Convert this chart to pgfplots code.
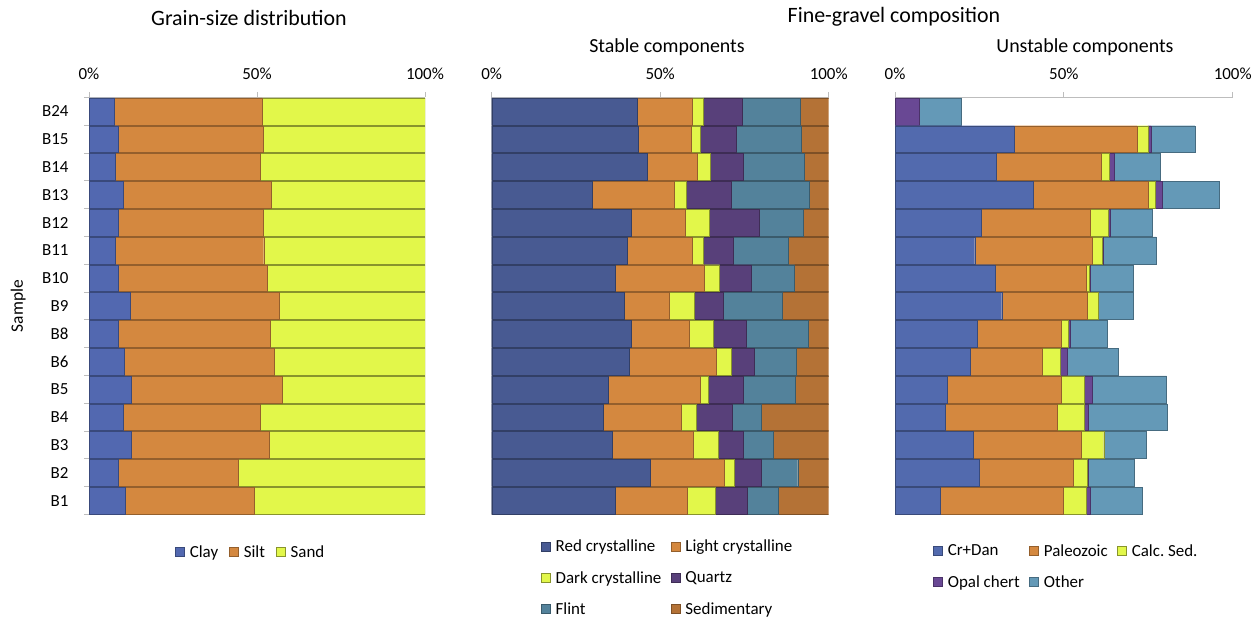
\documentclass[border=0pt]{standalone}
\usepackage{fontspec}
\setmainfont{Carlito}
\usepackage{pgfplots}
\usepackage{pgfplotstable}
\pgfplotsset{compat=1.18}

\definecolor{axisgray}{HTML}{BDBDBD}
\definecolor{cClay}{HTML}{5268B0}
\definecolor{cOrange}{HTML}{D4883F}
\definecolor{cYellow}{HTML}{E2F74A}
\definecolor{cRed}{HTML}{485A92}
\definecolor{cQuartz}{HTML}{58407A}
\definecolor{cFlint}{HTML}{53829B}
\definecolor{cSed}{HTML}{B47236}
\definecolor{cCr}{HTML}{526AAE}
\definecolor{cOpal}{HTML}{694894}
\definecolor{cOther}{HTML}{6499B7}

\pgfplotstableread{
pos name clay silt sand
0  B1  10.7 38.6 50.7
1  B2  8.7  35.8 55.5
2  B3  12.7 40.9 46.4
3  B4  10.2 40.7 49.1
4  B5  12.5 45.1 42.4
5  B6  10.5 44.6 44.9
6  B8  8.6  45.2 46.2
7  B9  12.2 44.5 43.3
8  B10 8.7  44.3 47.0
9  B11 7.9  44.1 48.0
10 B12 8.6  43.2 48.2
11 B13 10.2 44.1 45.7
12 B14 7.8  43.3 48.9
13 B15 8.7  43.1 48.2
14 B24 7.5  44.0 48.5
}\grain

\pgfplotstableread{
pos name red light dark quartz flint sed
0  B1  36.7 21.2 8.4 9.5  9.2  15.0
1  B2  47.0 21.9 3.0 8.1  10.8 9.2
2  B3  35.7 24.0 7.4 7.6  8.9  16.4
3  B4  33.2 23.0 4.5 10.6 8.7  20.0
4  B5  34.5 27.4 2.4 10.3 15.4 10.0
5  B6  40.8 25.9 4.5 6.6  12.7 9.5
6  B8  41.4 17.3 7.1 9.7  18.3 6.2
7  B9  39.2 13.6 7.4 8.6  17.3 13.9
8  B10 36.7 26.4 4.5 9.4  12.9 10.1
9  B11 40.3 19.1 3.3 8.9  16.4 12.0
10 B12 41.4 16.0 7.1 14.8 13.0 7.7
11 B13 29.8 24.4 3.6 13.3 23.1 5.8
12 B14 46.1 15.0 3.7 9.8  18.2 7.2
13 B15 43.6 15.7 2.5 10.8 19.3 8.1
14 B24 43.2 16.4 3.3 11.4 17.3 8.4
}\stable

\pgfplotstableread{
pos name cr paleo calc opal other
0  B1  13.3 36.6 6.7 1.1 15.5
1  B2  24.9 27.8 4.3 0.1 13.6
2  B3  23.3 31.9 6.6 0.2 12.5
3  B4  14.8 33.1 8.2 1.1 23.4
4  B5  15.4 33.7 7.0 2.2 22.1
5  B6  22.4 21.1 5.4 2.2 15.0
6  B8  24.4 24.8 2.2 0.6 10.7
7  B9  31.6 25.2 3.4 0.1 10.3
8  B10 29.6 27.0 1.0 0.2 12.7
9  B11 23.6 34.7 3.2 0.1 15.7
10 B12 25.4 32.3 5.3 0.7 12.6
11 B13 40.8 34.1 2.2 2.0 16.9
12 B14 30.1 31.1 2.1 1.7 13.4
13 B15 35.4 36.2 3.3 0.9 13.0
14 B24 0    0    0   7.2 12.5
}\unstable

\pgfplotsset{
  base/.style={
    scale only axis, height=417bp,
    xbar stacked, xmin=0, xmax=100, ymin=-0.5, ymax=14.5,
    bar width=0.97,
    axis x line*=top, axis y line*=left,
    axis line style={draw=axisgray, line width=0.8bp, -},
    xtick={0,50,100},
    xticklabel={\pgfmathprintnumber{\tick}\%},
    xticklabel style={yshift=9bp},
    tick align=outside, major tick length=5bp, minor tick length=5bp,
    tick style={draw=axisgray, line width=0.8bp},
    ticklabel style={font=\fontsize{17}{20}\selectfont},
    /pgf/number format/assume math mode=true,
    legend style={draw=none, fill=none, inner sep=0pt, anchor=north west,
      font=\fontsize{17}{20}\selectfont, row sep=13bp,
      nodes={inner sep=2.5bp, inner xsep=5bp},
      /tikz/every even column/.append style={column sep=4.5bp}},
    legend cell align=left,
    legend image code/.code={\draw[##1, line width=0.6bp] (0bp,-4.5bp) rectangle (9bp,4.5bp);},
  }
}

\begin{document}
\begin{tikzpicture}
\useasboundingbox (0,0) rectangle (1258bp,620bp);

\node[font=\fontsize{22}{26}\selectfont] at (249bp,602bp) {Grain-size distribution};
\node[font=\fontsize{22}{26}\selectfont] at (894bp,603bp) {Fine-gravel composition};
\node[font=\fontsize{20}{24}\selectfont] at (667bp,573bp) {Stable components};
\node[font=\fontsize{20}{24}\selectfont] at (1085bp,573bp) {Unstable components};

% Panel 1
\begin{axis}[base, width=336bp, at={(89bp,105.5bp)}, anchor=south west,
  ytick={0,...,14},
  yticklabels={B1,B2,B3,B4,B5,B6,B8,B9,B10,B11,B12,B13,B14,B15,B24},
  every major y tick/.append style={draw=none},
  minor ytick={-0.5,0.5,...,14.5},
  yticklabel style={xshift=-12bp},
  ylabel={Sample},
  ylabel style={at={(axis description cs:-0.211,0.5)}, anchor=center, font=\fontsize{17.5}{20}\selectfont},
  legend columns=3,
  legend style={at={(axis description cs:0.256,-0.068)}, /tikz/every even column/.append style={column sep=6bp}},
]
\addplot[fill=cClay, draw=cClay!70!black] table[x=clay, y=pos]{\grain};
\addplot[fill=cOrange, draw=cOrange!70!black] table[x=silt, y=pos]{\grain};
\addplot[fill=cYellow, draw=cYellow!60!black] table[x=sand, y=pos]{\grain};
\legend{Clay, Silt, Sand}
\end{axis}

% Panel 2
\begin{axis}[base, width=337bp, at={(491.7bp,105.5bp)}, anchor=south west,
  ytick=\empty,
  legend columns=2,
  legend style={at={(axis description cs:0.146,-0.055)}},
]
\addplot[fill=cRed, draw=cRed!70!black] table[x=red, y=pos]{\stable};
\addplot[fill=cOrange, draw=cOrange!70!black] table[x=light, y=pos]{\stable};
\addplot[fill=cYellow, draw=cYellow!60!black] table[x=dark, y=pos]{\stable};
\addplot[fill=cQuartz, draw=cQuartz!70!black] table[x=quartz, y=pos]{\stable};
\addplot[fill=cFlint, draw=cFlint!70!black] table[x=flint, y=pos]{\stable};
\addplot[fill=cSed, draw=cSed!70!black] table[x=sed, y=pos]{\stable};
\legend{Red crystalline, Light crystalline, Dark crystalline, Quartz, Flint, Sedimentary}
\end{axis}

% Panel 3
\begin{axis}[base, width=337.7bp, at={(895bp,105.5bp)}, anchor=south west,
  ytick=\empty,
  legend columns=3,
  legend style={at={(axis description cs:0.1125,-0.065)}},
]
\addplot[fill=cCr, draw=cCr!70!black] table[x=cr, y=pos]{\unstable};
\addplot[fill=cOrange, draw=cOrange!70!black] table[x=paleo, y=pos]{\unstable};
\addplot[fill=cYellow, draw=cYellow!60!black] table[x=calc, y=pos]{\unstable};
\addplot[fill=cOpal, draw=cOpal!70!black] table[x=opal, y=pos]{\unstable};
\addplot[fill=cOther, draw=cOther!70!black] table[x=other, y=pos]{\unstable};
\legend{Cr+Dan, Paleozoic, Calc.\ Sed., Opal chert, Other}
\end{axis}
\end{tikzpicture}
\end{document}
